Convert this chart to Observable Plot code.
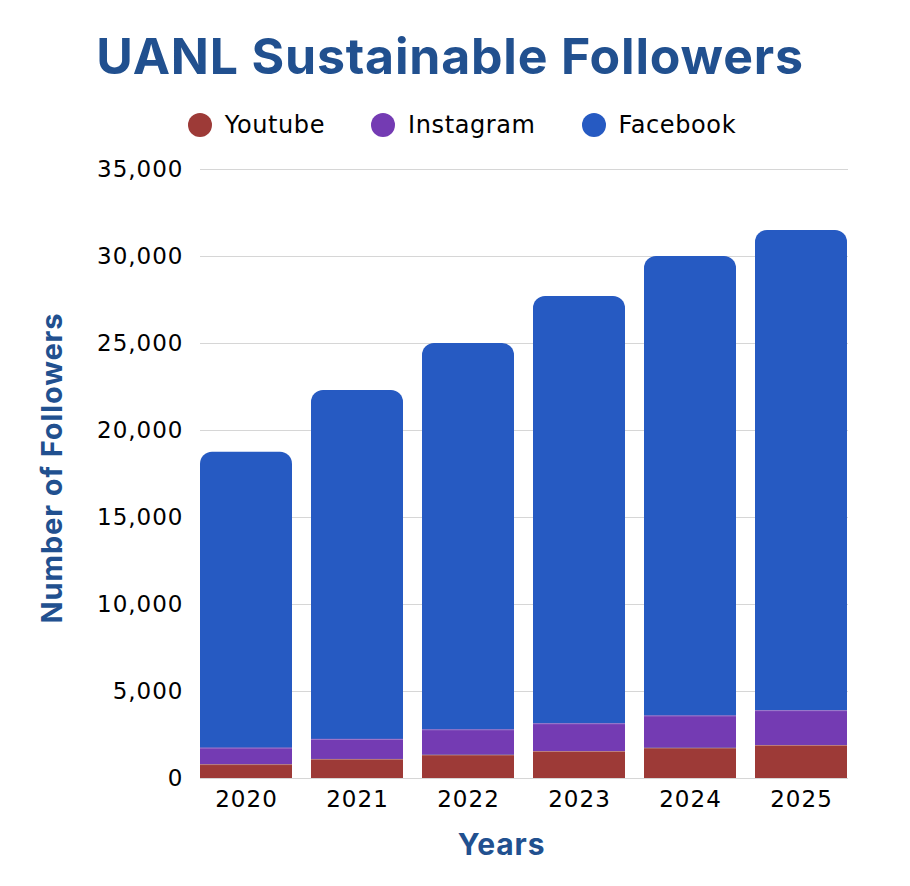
<!DOCTYPE html>
<html>
<head>
<meta charset="utf-8">
<script src="https://cdn.jsdelivr.net/npm/d3@7"></script>
<script src="https://cdn.jsdelivr.net/npm/@observablehq/plot@0.6"></script>
<style>
  html, body { margin: 0; padding: 0; background: #fff; }
  #wrap { width: 910px; }
  #title { height: 100px; padding-top: 12px; padding-right: 10px; display: flex; align-items: center; justify-content: center;
    font-family: Inter, sans-serif; font-weight: 700; font-size: 50px; color: #21508f;
    letter-spacing: 0.8px; box-sizing: border-box; }
  #legend { height: 50px; display: flex; align-items: center; justify-content: center;
    font-family: "DejaVu Sans", sans-serif; font-size: 24px; letter-spacing: 0.6px; color: #000; padding-left: 14px; box-sizing: border-box; }
  .item { display: flex; align-items: center; margin: 0 23px; }
  .dot { width: 24px; height: 24px; border-radius: 50%; margin-right: 13px; }
  svg { display: block; }
  #chart g[aria-label="y-axis tick label"] text,
  #chart g[aria-label="x-axis tick label"] text { letter-spacing: 1px; }
  #chart g[aria-label="text"] text { letter-spacing: 0.9px; }
</style>
</head>
<body>
<div id="wrap">
  <div id="title">UANL Sustainable Followers</div>
  <div id="legend"></div>
  <div id="chart"></div>
</div>
<script>
const years = ["2020", "2021", "2022", "2023", "2024", "2025"];
const youtube = [800, 1100, 1350, 1550, 1750, 1900];
const instagram = [950, 1150, 1450, 1600, 1850, 2000];
const facebook = [17000, 20050, 22200, 24550, 26400, 27600];
const platforms = ["Youtube", "Instagram", "Facebook"];
const colors = ["#9d3a37", "#743bb3", "#265ac2"];
const yTicks = [0, 5000, 10000, 15000, 20000, 25000, 30000, 35000];

// legend
const legend = document.getElementById("legend");
platforms.forEach((p, i) => {
  const it = document.createElement("div");
  it.className = "item";
  it.innerHTML = `<span class="dot" style="background:${colors[i]}"></span><span>${p}</span>`;
  legend.appendChild(it);
});

const totals = years.map((y, i) => ({year: y, total: youtube[i] + instagram[i] + facebook[i]}));
const lower = [];
years.forEach((y, i) => {
  lower.push({year: y, platform: "Youtube", value: youtube[i]});
  lower.push({year: y, platform: "Instagram", value: instagram[i]});
});
const seams = years.flatMap((y, i) => [
  {year: y, v: youtube[i]},
  {year: y, v: youtube[i] + instagram[i]}
]);

const chart = Plot.plot({
  width: 910,
  height: 736,
  marginTop: 19,
  marginBottom: 108,
  marginLeft: 200,
  marginRight: 62,
  style: {fontFamily: "DejaVu Sans, sans-serif", fontSize: "23px", color: "#000", background: "#fff"},
  x: {domain: years, paddingInner: 0.17, paddingOuter: 0, label: null},
  y: {domain: [0, 35000], label: null},
  color: {domain: platforms, range: colors},
  marks: [
    Plot.gridY(yTicks, {stroke: "#d6d6d6", strokeOpacity: 1, strokeWidth: 1}),
    Plot.barY(totals, {x: "year", y: "total", fill: colors[2], rx: 12}),
    Plot.barY(lower, Plot.stackY({x: "year", y: "value", fill: "platform", order: platforms})),
    Plot.tickY(seams, {x: "year", y: "v", stroke: "#ffffff", strokeOpacity: 0.35, strokeWidth: 1}),
    Plot.axisY(yTicks, {tickSize: 0, tickPadding: 17, tickFormat: d3.format(","), fontSize: 23, label: null}),
    Plot.axisX({tickSize: 0, tickPadding: 12, fontSize: 23, label: null}),
    Plot.text(["Number of Followers"], {frameAnchor: "left", textAnchor: "middle", lineAnchor: "middle",
      rotate: -90, dx: -148, dy: -6,
      fontSize: 29, fontWeight: 700, fill: "#21508f", fontFamily: "Inter, sans-serif"}),
    Plot.text(["Years"], {frameAnchor: "bottom", textAnchor: "middle", lineAnchor: "middle", dx: -23, dy: 67,
      fontSize: 30, fontWeight: 700, fill: "#21508f", fontFamily: "Inter, sans-serif"})
  ]
});
document.getElementById("chart").appendChild(chart);
</script>
</body>
</html>
